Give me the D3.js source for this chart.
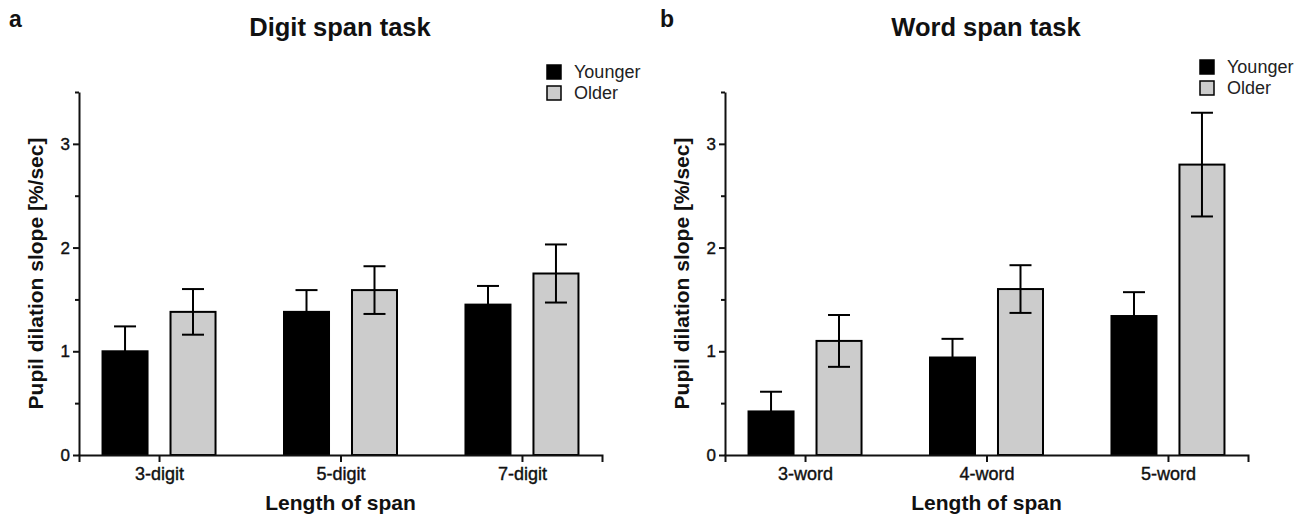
<!DOCTYPE html>
<html>
<head>
<meta charset="utf-8">
<script src="https://cdn.jsdelivr.net/npm/d3@7"></script>
<style>
  body { margin: 0; background: #fff; }
  text { font-family: "Liberation Sans", Arial, sans-serif; fill: #111; }
</style>
</head>
<body>
<script>
var groups = ["Younger", "Older"];

var digitCats = ["3-digit", "5-digit", "7-digit"];
var digitYounger = [1.00, 1.38, 1.45];
var digitYoungerErr = [0.24, 0.21, 0.18];
var digitOlder = [1.38, 1.59, 1.75];
var digitOlderErr = [0.22, 0.23, 0.28];

var wordCats = ["3-word", "4-word", "5-word"];
var wordYounger = [0.42, 0.94, 1.34];
var wordYoungerErr = [0.19, 0.18, 0.23];
var wordOlder = [1.10, 1.60, 2.80];
var wordOlderErr = [0.25, 0.23, 0.50];

var yTicks = [0, 0.5, 1, 1.5, 2, 2.5, 3, 3.5];
var yMax = 3.5;

var fills = { Younger: "#000", Older: "#cccccc" };

var setting = {
  WIDTH: 1309,
  HEIGHT: 515,
  TOP: 92,
  BOTTOM: 455
};

var svg = d3.select("body").append("svg")
  .attr("width", setting.WIDTH)
  .attr("height", setting.HEIGHT);

var y = d3.scaleLinear().domain([0, yMax]).range([setting.BOTTOM, setting.TOP]);

function drawPanel(p) {
  var g = svg.append("g");

  var x = d3.scalePoint().domain(p.cats).range([p.left, p.right]).padding(0.441);
  var sub = d3.scaleBand().domain(groups).range([-56.5, 56.5]).paddingInner(0.338);

  var rows = p.cats.map(function(c, i) {
    return [
      { cat: c, key: "Younger", v: p.young[i], e: p.youngErr[i] },
      { cat: c, key: "Older", v: p.old[i], e: p.oldErr[i] }
    ];
  });

  var bars = g.selectAll("g.grp").data(rows).enter().append("g")
    .attr("class", "grp")
    .attr("transform", function(d) { return "translate(" + x(d[0].cat) + ",0)"; });

  bars.selectAll("rect").data(function(d) { return d; }).enter().append("rect")
    .attr("x", function(d) { return sub(d.key); })
    .attr("y", function(d) { return y(d.v); })
    .attr("width", sub.bandwidth())
    .attr("height", function(d) { return y(0) - y(d.v); })
    .attr("fill", function(d) { return fills[d.key]; })
    .attr("stroke", "#000")
    .attr("stroke-width", 2);

  var err = bars.selectAll("g.err").data(function(d) { return d; }).enter().append("g")
    .attr("class", "err")
    .attr("transform", function(d) { return "translate(" + (sub(d.key) + sub.bandwidth() / 2) + ",0)"; })
    .attr("stroke", "#000")
    .attr("stroke-width", 2);
  err.append("line")
    .attr("y1", function(d) { return y(d.v - d.e); })
    .attr("y2", function(d) { return y(d.v + d.e); });
  err.append("line").attr("x1", -11).attr("x2", 11)
    .attr("y1", function(d) { return y(d.v + d.e); })
    .attr("y2", function(d) { return y(d.v + d.e); });
  err.append("line").attr("x1", -11).attr("x2", 11)
    .attr("y1", function(d) { return y(d.v - d.e); })
    .attr("y2", function(d) { return y(d.v - d.e); });

  // axes
  var ya = g.append("g").attr("transform", "translate(" + p.left + ",0)")
    .call(d3.axisLeft(y).tickValues(yTicks).tickSizeOuter(0).tickPadding(3)
      .tickFormat(function(d) { return Number.isInteger(d) ? d : ""; }));
  ya.selectAll(".tick").filter(function(d) { return !Number.isInteger(d); })
    .select("line").attr("x2", -4);
  ya.selectAll(".tick line").attr("stroke-width", 2).attr("stroke", "#111");
  ya.select(".domain").attr("stroke-width", 2).attr("stroke", "#111");
  ya.selectAll("text").style("font-size", "17px").style("fill", "#111")
    .style("stroke", "#111").style("stroke-width", "0.4px");

  var xa = g.append("g").attr("transform", "translate(0," + setting.BOTTOM + ")")
    .call(d3.axisBottom(x).tickSizeOuter(0).tickSize(7).tickPadding(5));
  xa.selectAll(".tick line").attr("stroke-width", 2).attr("stroke", "#111");
  xa.select(".domain").attr("stroke-width", 2).attr("stroke", "#111");
  xa.selectAll("text").style("font-size", "18px").style("fill", "#111")
    .style("stroke", "#111").style("stroke-width", "0.4px");

  g.append("text")
    .attr("transform", "translate(" + (p.left - 36) + "," + ((setting.TOP + setting.BOTTOM) / 2) + ") rotate(-90)")
    .attr("text-anchor", "middle")
    .style("font-size", "21px").style("font-weight", "bold")
    .text("Pupil dilation slope [%/sec]");

  g.append("text")
    .attr("x", (p.left + p.right) / 2).attr("y", 510)
    .attr("text-anchor", "middle")
    .style("font-size", "21px").style("font-weight", "bold")
    .text("Length of span");

  g.append("text")
    .attr("x", p.titleX).attr("y", 36)
    .attr("text-anchor", "middle")
    .style("font-size", "25.5px").style("font-weight", "bold")
    .text(p.title);

  g.append("text")
    .attr("x", p.letterX).attr("y", 27)
    .style("font-size", "23px").style("font-weight", "bold")
    .text(p.letter);

  // legend
  var leg = g.selectAll("g.leg").data(groups).enter().append("g")
    .attr("class", "leg")
    .attr("transform", function(d, i) { return "translate(" + p.legX + "," + (p.legY + i * 21) + ")"; });
  leg.append("rect")
    .attr("width", 14).attr("height", 14)
    .attr("fill", function(d) { return fills[d]; })
    .attr("stroke", "#000").attr("stroke-width", 1.5);
  leg.append("text")
    .attr("x", 27).attr("y", 13)
    .style("font-size", "18px").style("fill", "#222")
    .text(function(d) { return d; });
}

drawPanel({
  cats: digitCats, young: digitYounger, youngErr: digitYoungerErr,
  old: digitOlder, oldErr: digitOlderErr,
  left: 79, right: 602, title: "Digit span task", titleX: 340, letter: "a", letterX: 9,
  legX: 547, legY: 65
});

drawPanel({
  cats: wordCats, young: wordYounger, youngErr: wordYoungerErr,
  old: wordOlder, oldErr: wordOlderErr,
  left: 725, right: 1248, title: "Word span task", titleX: 986, letter: "b", letterX: 660,
  legX: 1200, legY: 60
});
</script>
</body>
</html>
